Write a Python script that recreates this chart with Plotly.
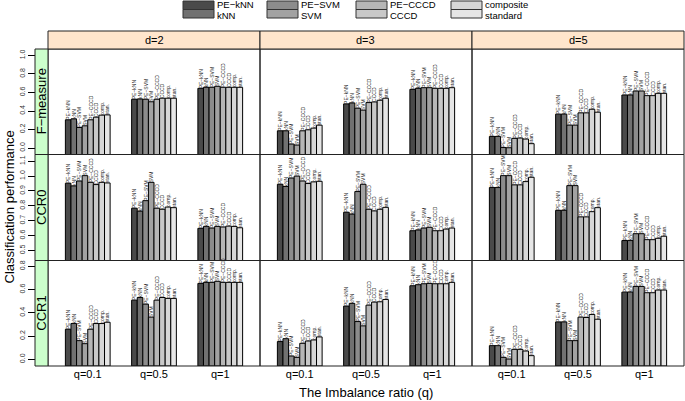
import plotly.graph_objects as go

# ---------------- data ----------------
methods = ["PE−kNN", "kNN", "PE−SVM", "SVM", "PE−CCCD", "CCCD", "composite", "standard"]
bar_labels = ["PE−kNN", "kNN", "PE−SVM", "SVM", "PE−CCCD", "CCCD", "comp.", "stan."]
q_labels = ["q=0.1", "q=0.5", "q=1"]
d_labels = ["d=2", "d=3", "d=5"]
metrics = ["F−measure", "CCR0", "CCR1"]

# rows: q=0.1, q=0.5, q=1 ; columns: the 8 methods
fmeasure_d2 = [[0.305, 0.315, 0.222, 0.240, 0.305, 0.333, 0.355, 0.358],
               [0.527, 0.530, 0.527, 0.500, 0.527, 0.538, 0.538, 0.538],
               [0.645, 0.656, 0.656, 0.667, 0.656, 0.656, 0.656, 0.656]]
fmeasure_d3 = [[0.186, 0.186, 0.043, 0.032, 0.186, 0.197, 0.215, 0.247],
               [0.477, 0.487, 0.430, 0.409, 0.491, 0.498, 0.516, 0.538],
               [0.634, 0.645, 0.652, 0.652, 0.645, 0.645, 0.645, 0.652]]
fmeasure_d5 = [[0.125, 0.125, 0.005, 0.003, 0.104, 0.108, 0.097, 0.047],
               [0.366, 0.366, 0.247, 0.247, 0.380, 0.380, 0.419, 0.387],
               [0.573, 0.573, 0.616, 0.616, 0.566, 0.566, 0.591, 0.591]]
ccr0_d2 = [[0.952, 0.934, 0.967, 1.003, 0.958, 0.943, 0.958, 0.954],
           [0.784, 0.764, 0.835, 0.958, 0.784, 0.777, 0.792, 0.788],
           [0.649, 0.662, 0.651, 0.662, 0.658, 0.664, 0.662, 0.653]]
ccr0_d3 = [[0.945, 0.930, 0.987, 1.000, 0.967, 0.950, 0.961, 0.965],
           [0.757, 0.744, 0.896, 0.945, 0.777, 0.766, 0.777, 0.790],
           [0.633, 0.638, 0.651, 0.656, 0.633, 0.633, 0.644, 0.651]]
ccr0_d5 = [[0.923, 0.923, 1.003, 1.003, 0.941, 0.941, 0.963, 0.992],
           [0.770, 0.770, 0.936, 0.936, 0.726, 0.726, 0.761, 0.788],
           [0.567, 0.567, 0.613, 0.613, 0.573, 0.573, 0.582, 0.596]]
ccr1_d2 = [[0.259, 0.308, 0.161, 0.135, 0.259, 0.308, 0.308, 0.319],
           [0.509, 0.532, 0.475, 0.363, 0.509, 0.532, 0.524, 0.524],
           [0.653, 0.662, 0.662, 0.671, 0.662, 0.662, 0.662, 0.662]]
ccr1_d3 = [[0.153, 0.178, 0.029, 0.017, 0.138, 0.158, 0.167, 0.193],
           [0.458, 0.481, 0.325, 0.288, 0.466, 0.492, 0.495, 0.515],
           [0.633, 0.642, 0.650, 0.653, 0.650, 0.650, 0.650, 0.662]]
ccr1_d5 = [[0.118, 0.118, 0.017, 0.003, 0.086, 0.086, 0.072, 0.032],
           [0.322, 0.322, 0.161, 0.161, 0.363, 0.360, 0.386, 0.345],
           [0.578, 0.578, 0.627, 0.627, 0.573, 0.573, 0.596, 0.596]]

f_ticks = [0.0, 0.2, 0.4, 0.6, 0.8, 1.0]
ccr0_ticks = [0.5, 0.6, 0.7, 0.8, 0.9, 1.0, 1.1]
ccr1_ticks = [0.0, 0.2, 0.4, 0.6, 0.8]

# ---------------- styling / layout ----------------
W, H = 685, 401
FONT = "Liberation Sans, Arial, Helvetica, sans-serif"
colors = ["#4a4a4a", "#717171", "#8c8c8c", "#a2a2a2", "#b6b6b6", "#c8c8c8", "#d7d7d7", "#e6e6e6"]

table = [[fmeasure_d2, fmeasure_d3, fmeasure_d5],
         [ccr0_d2, ccr0_d3, ccr0_d5],
         [ccr1_d2, ccr1_d3, ccr1_d5]]
ranges = [[-0.07, 1.07], [0.433, 1.145], [-0.057, 0.85]]
ticks = [f_ticks, ccr0_ticks, ccr1_ticks]

col_px = [(48, 260), (260, 472), (472, 684)]
row_px = [(49, 154.5), (154.5, 260.5), (260.5, 366)]
strip_top = 31
green_x = (35, 48)


def px(x):
    return x / W


def py(y):
    return 1 - y / H


fig = go.Figure()
layout = {}
shapes = []
annotations = []


def label(text, x, y, size, angle=0, xanchor="center", pad=1):
    annotations.append(dict(text=text, xref="paper", yref="paper", x=x, y=y,
                            xanchor=xanchor, yanchor="middle", showarrow=False,
                            textangle=angle, borderpad=pad,
                            font=dict(size=size, family=FONT, color="black")))


for r in range(3):
    ymin, ymax = ranges[r]
    for c in range(3):
        k = r * 3 + c + 1
        xa = "x" if k == 1 else f"x{k}"
        ya = "y" if k == 1 else f"y{k}"
        data = table[r][c]
        for j, m in enumerate(methods):
            vals = [data[qi][j] for qi in range(3)]
            fig.add_trace(go.Bar(
                x=q_labels, y=[v - ymin for v in vals], base=ymin,
                name=m, showlegend=False,
                marker=dict(color=colors[j], line=dict(color="black", width=1)),
                text=[bar_labels[j]] * 3, textposition="outside", textangle=-90,
                textfont=dict(size=5, color="#222", family=FONT),
                constraintext="none", cliponaxis=False,
                xaxis=xa, yaxis=ya,
            ))
        x0, x1 = col_px[c]
        y0, y1 = row_px[r]
        layout[f"xaxis{k}"] = dict(
            domain=[px(x0), px(x1)], anchor=ya, type="category",
            range=[-0.6, 2.6], showgrid=False, zeroline=False, showline=False,
            showticklabels=(r == 2), ticks="", automargin=False,
            tickfont=dict(size=11, family=FONT, color="black"),
        )
        yax = dict(
            domain=[py(y1), py(y0)], range=[ymin, ymax], automargin=False,
            showgrid=False, zeroline=False, showline=False,
        )
        if c == 0:
            yax.update(anchor="free", position=px(green_x[0]), ticks="outside",
                       ticklen=7, tickcolor="black", tickvals=ticks[r],
                       ticktext=[f"{t:.1f}" for t in ticks[r]], tickangle=-90,
                       tickfont=dict(size=7, family=FONT, color="#333"))
        else:
            yax.update(anchor=xa, showticklabels=False, ticks="")
        layout[f"yaxis{k}"] = yax
        # panel border
        shapes.append(dict(type="rect", xref="paper", yref="paper",
                           x0=px(x0), x1=px(x1), y0=py(y1), y1=py(y0),
                           line=dict(color="#222", width=1), layer="above"))
    # green strip with row label
    y0, y1 = row_px[r]
    shapes.append(dict(type="rect", xref="paper", yref="paper",
                       x0=px(green_x[0]), x1=px(green_x[1]), y0=py(y1), y1=py(y0),
                       fillcolor="#ccffcc", line=dict(color="#222", width=1)))
    label(metrics[r], px((green_x[0] + green_x[1]) / 2), py((y0 + y1) / 2), 13, angle=-90)

# top strips
for c in range(3):
    x0, x1 = col_px[c]
    shapes.append(dict(type="rect", xref="paper", yref="paper",
                       x0=px(x0), x1=px(x1), y0=py(row_px[0][0]), y1=py(strip_top),
                       fillcolor="#ffe5cc", line=dict(color="#222", width=1)))
    label(d_labels[c], px((x0 + x1) / 2), py((strip_top + row_px[0][0]) / 2), 11)

# legend (2 stacked boxes per column)
leg_x = [183, 267, 356, 451]
for i, lx in enumerate(leg_x):
    for s in range(2):
        j = 2 * i + s
        ya0, ya1 = 1 + s * 8.5, 9.5 + s * 8.5
        shapes.append(dict(type="rect", xref="paper", yref="paper",
                           x0=px(lx), x1=px(lx + 31), y0=py(ya1), y1=py(ya0),
                           fillcolor=colors[j], line=dict(color="#333", width=1)))
        label(methods[j], px(lx + 33), py(4 + s * 11), 9.5, xanchor="left", pad=0)

# axis titles
label("Classification performance", px(9), py((row_px[0][0] + row_px[2][1]) / 2), 13, angle=-90)
label("The Imbalance ratio (q)", px((col_px[0][0] + col_px[2][1]) / 2), py(392), 13)

fig.update_layout(
    width=W, height=H, margin=dict(l=0, r=0, t=0, b=0, pad=0),
    paper_bgcolor="white", plot_bgcolor="white",
    barmode="group", bargap=0.325, bargroupgap=0, showlegend=False,
    shapes=shapes, annotations=annotations,
    font=dict(family=FONT),
    **layout,
)

fig.write_html("out.html", config={"displayModeBar": False},
               post_script="document.body.style.margin='0';document.body.style.overflow='hidden';")
